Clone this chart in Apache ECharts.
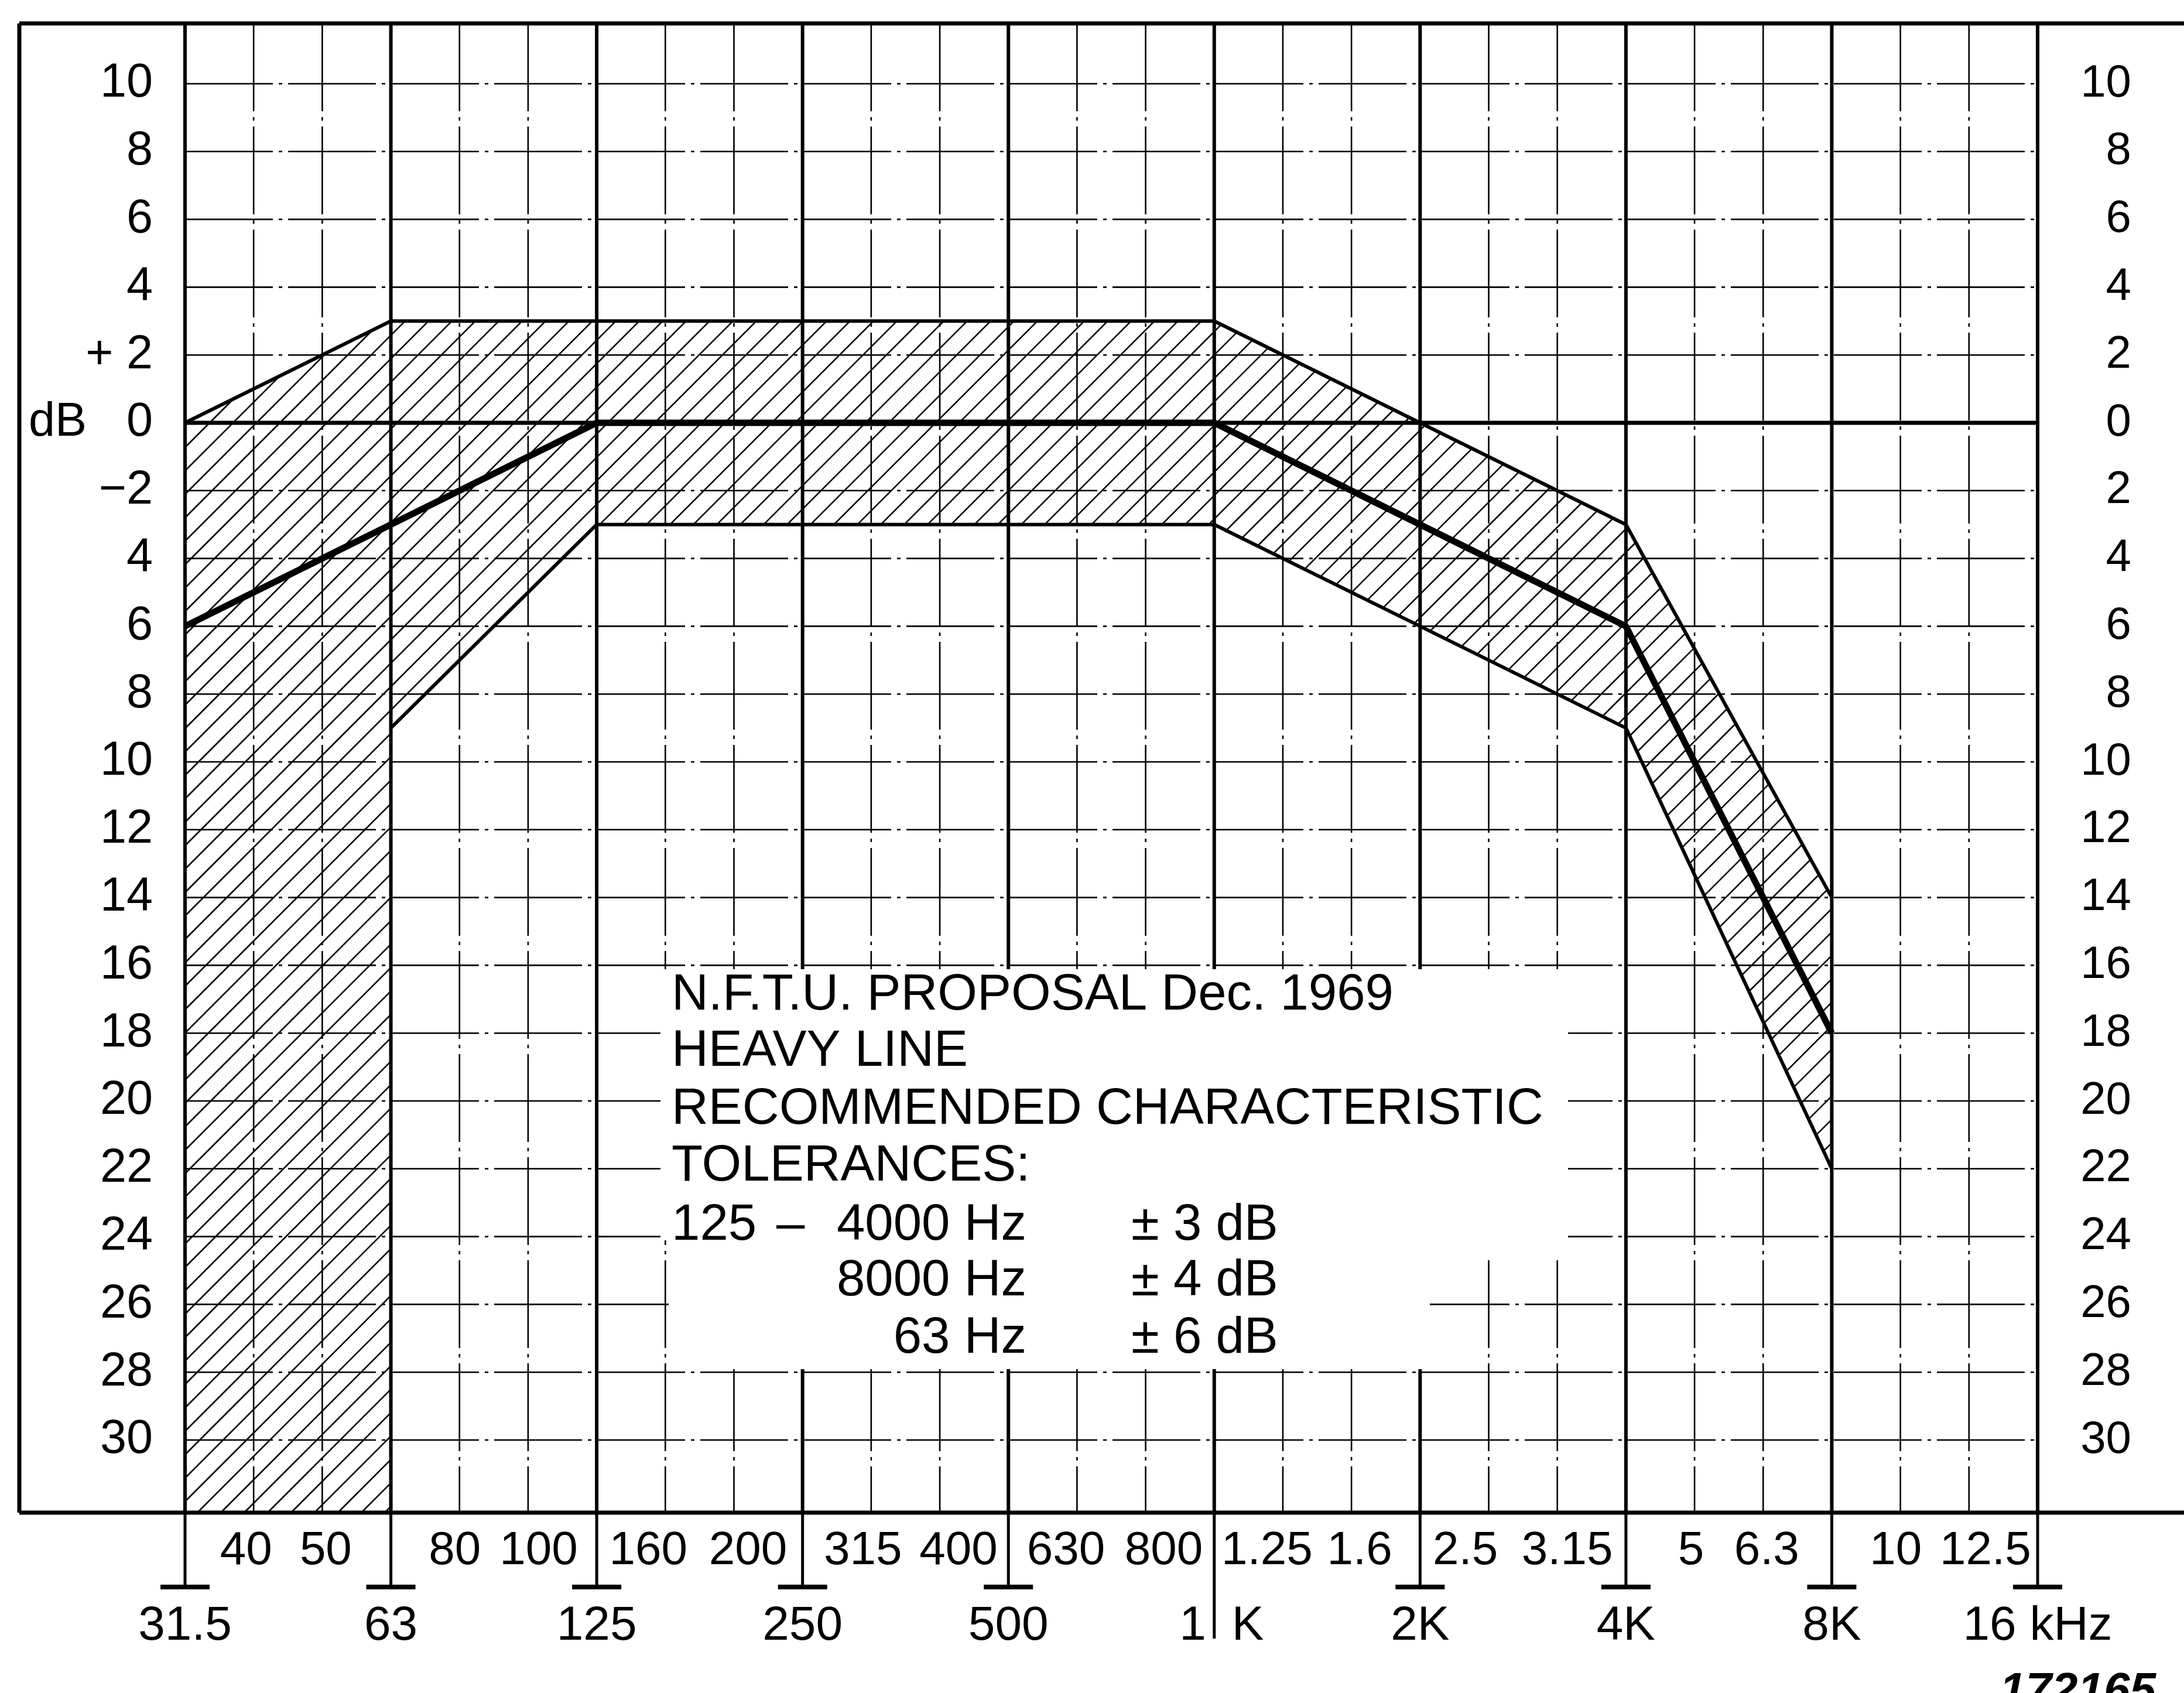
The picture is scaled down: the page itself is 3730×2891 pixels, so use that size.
<!DOCTYPE html>
<html>
<head>
<meta charset="utf-8">
<script src="https://cdn.jsdelivr.net/npm/echarts@6/dist/echarts.min.js"></script>
<style>
html,body{margin:0;padding:0;background:#fff;}
#chart{width:3730px;height:2891px;}
</style>
</head>
<body>
<div id="chart"></div>
<script>
// ---------------- DATA ----------------
// one-third-octave bands of the chart paper (equally spaced)
const bandFreqs = ['31.5','40','50','63','80','100','125','160','200','250','315','400','500','630','800','1K','1.25','1.6','2K','2.5','3.15','4K','5','6.3','8K','10','12.5','16K'];
const octaveBands = ['31.5','63','125','250','500','1K','2K','4K','8K','16K'];
const octaveTickLabels = ['31.5','63','125','250','500','1K','2K','4K','8K','16 kHz'];
const thirdBands = ['40','50','80','100','160','200','315','400','630','800','1.25','1.6','2.5','3.15','5','6.3','10','12.5'];
const thirdTickLabels = ['40','50','80','100','160','200','315','400','630','800','1.25','1.6','2.5','3.15','5','6.3','10','12.5'];
const dbTicks = [10,8,6,4,2,0,-2,-4,-6,-8,-10,-12,-14,-16,-18,-20,-22,-24,-26,-28,-30];
const leftTickLabels = ['10','8','6','4','+ 2','0','\u22122','4','6','8','10','12','14','16','18','20','22','24','26','28','30'];
const rightTickLabels = ['10','8','6','4','2','0','2','4','6','8','10','12','14','16','18','20','22','24','26','28','30'];

// heavy line: recommended characteristic (dB)
const charFreqs = ['31.5','63','125','1K','2K','4K','8K'];
const charDb    = [-6, -3, 0, 0, -3, -6, -18];
// upper tolerance limit
const upperFreqs = ['31.5','63','125','1K','2K','4K','8K'];
const upperDb    = [0, 3, 3, 3, 0, -3, -14];
// lower tolerance limit (below 63 Hz the band is open down to the chart floor)
const lowerFreqs = ['63','125','1K','2K','4K','8K'];
const lowerDb    = [-9, -3, -3, -6, -9, -22];
const openBelowFreqs = ['31.5','63'];

const noteLines = ['N.F.T.U. PROPOSAL Dec. 1969','HEAVY LINE','RECOMMENDED CHARACTERISTIC','TOLERANCES:'];
const tolRanges = ['4000 Hz','8000 Hz','63 Hz'];
const tolValues = ['\u00b1 3 dB','\u00b1 4 dB','\u00b1 6 dB'];

// ---------------- LAYOUT ----------------
const W = 3730, H = 2891;
const X_FIRST = 316, X_LAST = 3480;          // pixel x of 31.5 Hz and 16 kHz lines
const Y_ZERO = 722, PX_PER_DB = 57.9;        // pixel y of 0 dB and scale
const FRAME_LEFT = 33, FRAME_TOP = 40, FRAME_BOTTOM = 2583;
const BAR_Y = 2710, ONEK_EXT = 2798;
const ROW_THIRD_Y = 2649, ROW_OCT_Y = 2777;
const LEFT_LAB_X = 261, RIGHT_LAB_X = 3640;
const FONT = '"Liberation Sans", Arial, Helvetica, sans-serif';
// small typographic offsets of the paired 1/3-octave labels (first of a pair sits left, second right)
const THIRD_SHIFT = [-13, 6, -8, 18, -29, 24, -14, 32, -19, 31, -27, 14, -40, 17, -6, 6, -8, 28];
const step = (X_LAST - X_FIRST) / (bandFreqs.length - 1);
const xMin = -X_FIRST / step, xMax = (bandFreqs.length - 1) + (W - X_LAST) / step;
const yMax = Y_ZERO / PX_PER_DB, yMin = -(H - Y_ZERO) / PX_PER_DB;
const idx = f => bandFreqs.indexOf(f);
const THIN_DASH = [150, 10, 6, 10];
const HATCH_GAP = 40;

function txt(text, x, y, size, align, extra) {
  return Object.assign({
    text: text, x: x, y: y, fill: '#000',
    fontSize: size, fontFamily: FONT,
    align: align, textAlign: align,
    verticalAlign: 'middle', textVerticalAlign: 'middle'
  }, extra || {});
}

// 45-degree hatch lines clipped to a polygon (pixel space)
function hatchLines(pts, gap) {
  let lo = Infinity, hi = -Infinity;
  pts.forEach(p => { const s = p[0] + p[1]; lo = Math.min(lo, s); hi = Math.max(hi, s); });
  const out = [];
  for (let c = Math.ceil(lo / gap) * gap; c <= hi; c += gap) {
    const xs = [];
    for (let i = 0; i < pts.length; i++) {
      const a = pts[i], b = pts[(i + 1) % pts.length];
      const s1 = a[0] + a[1] - c, s2 = b[0] + b[1] - c;
      if ((s1 > 0) !== (s2 > 0)) {
        const t = s1 / (s1 - s2);
        xs.push(a[0] + t * (b[0] - a[0]));
      }
    }
    xs.sort((m, n) => m - n);
    for (let k = 0; k + 1 < xs.length; k += 2) {
      out.push({type: 'line', shape: {x1: xs[k], y1: c - xs[k], x2: xs[k + 1], y2: c - xs[k + 1]},
                style: {stroke: '#000', lineWidth: 2.6}});
    }
  }
  return out;
}

const chart = echarts.init(document.getElementById('chart'), null, {width: W, height: H, renderer: 'canvas'});

const option = {
  backgroundColor: '#fff',
  animation: false,
  grid: {left: 0, right: 0, top: 0, bottom: 0, containLabel: false},
  xAxis: {type: 'value', min: xMin, max: xMax, show: false},
  yAxis: {type: 'value', min: yMin, max: yMax, show: false},
  series: [
    // vertical chart-paper lines
    {
      type: 'custom', z: 1, silent: true,
      data: bandFreqs.map((f, i) => [i]),
      renderItem: function (p, api) {
        const i = api.value(0);
        const f = bandFreqs[i];
        const x = api.coord([i, 0])[0];
        const oct = octaveBands.indexOf(f) >= 0;
        const st = oct ? {stroke: '#000', lineWidth: 6} : {stroke: '#000', lineWidth: 2.6, lineDash: THIN_DASH};
        const ch = [{type: 'line', shape: {x1: x, y1: FRAME_TOP, x2: x, y2: FRAME_BOTTOM}, style: st}];
        if (oct) {
          const ext = f === '1K' ? ONEK_EXT : BAR_Y;
          ch.push({type: 'line', shape: {x1: x, y1: FRAME_BOTTOM, x2: x, y2: ext}, style: {stroke: '#000', lineWidth: 5}});
          if (f !== '1K') {
            ch.push({type: 'line', shape: {x1: x - 42, y1: BAR_Y, x2: x + 42, y2: BAR_Y}, style: {stroke: '#000', lineWidth: 8}});
          }
        }
        return {type: 'group', children: ch};
      }
    },
    // horizontal chart-paper lines
    {
      type: 'custom', z: 1, silent: true,
      data: dbTicks.map(v => [v]),
      renderItem: function (p, api) {
        const v = api.value(0);
        const a = api.coord([0, v]);
        const b = api.coord([bandFreqs.length - 1, v]);
        const st = v === 0 ? {stroke: '#000', lineWidth: 7} : {stroke: '#000', lineWidth: 2.6, lineDash: THIN_DASH};
        return {type: 'line', shape: {x1: a[0], y1: a[1], x2: b[0], y2: b[1]}, style: st};
      }
    },
    // hatched tolerance band
    {
      type: 'custom', z: 2, silent: true,
      data: [[0]],
      renderItem: function (p, api) {
        const pts = [];
        upperFreqs.forEach((f, k) => pts.push(api.coord([idx(f), upperDb[k]])));
        for (let k = lowerFreqs.length - 1; k >= 0; k--) pts.push(api.coord([idx(lowerFreqs[k]), lowerDb[k]]));
        for (let k = openBelowFreqs.length - 1; k >= 0; k--) {
          pts.push([api.coord([idx(openBelowFreqs[k]), 0])[0], FRAME_BOTTOM]);
        }
        return {type: 'group', children: hatchLines(pts, HATCH_GAP)};
      }
    },
    // tolerance limits
    {
      type: 'line', z: 5, silent: true, symbol: 'none',
      data: upperFreqs.map((f, k) => [idx(f), upperDb[k]]),
      lineStyle: {color: '#000', width: 6}
    },
    {
      type: 'line', z: 5, silent: true, symbol: 'none',
      data: lowerFreqs.map((f, k) => [idx(f), lowerDb[k]]),
      lineStyle: {color: '#000', width: 6}
    },
    // heavy line: recommended characteristic
    {
      type: 'line', z: 6, silent: true, symbol: 'none',
      data: charFreqs.map((f, k) => [idx(f), charDb[k]]),
      lineStyle: {color: '#000', width: 11}
    },
    // dB tick labels (left & right)
    {
      type: 'custom', z: 7, silent: true,
      data: dbTicks.map((v, k) => [v, k]),
      renderItem: function (p, api) {
        const v = api.value(0), k = api.value(1);
        const y = api.coord([0, v])[1];
        const ch = [
          {type: 'text', style: txt(leftTickLabels[k], LEFT_LAB_X, y, 81, 'right')},
          {type: 'text', style: txt(rightTickLabels[k], RIGHT_LAB_X, y, 78, 'right')}
        ];
        if (v === 0) ch.push({type: 'text', style: txt('dB', 49, y, 81, 'left')});
        return {type: 'group', children: ch};
      }
    },
    // frequency labels: one-third-octave row
    {
      type: 'custom', z: 7, silent: true,
      data: thirdBands.map((f, k) => [idx(f), k]),
      renderItem: function (p, api) {
        const k = api.value(1);
        const x = api.coord([api.value(0), 0])[0] + THIRD_SHIFT[k];
        return {type: 'text', style: txt(thirdTickLabels[k], x, ROW_THIRD_Y, 80, 'center')};
      }
    },
    // frequency labels: octave row
    {
      type: 'custom', z: 7, silent: true,
      data: octaveBands.map((f, k) => [idx(f), k]),
      renderItem: function (p, api) {
        const x = api.coord([api.value(0), 0])[0];
        const lab = octaveTickLabels[api.value(1)];
        if (lab === '1K') {
          return {type: 'group', children: [
            {type: 'text', style: txt('1', x - 14, ROW_OCT_Y, 82, 'right')},
            {type: 'text', style: txt('K', x + 30, ROW_OCT_Y, 82, 'left')}
          ]};
        }
        return {type: 'text', style: txt(lab, x, ROW_OCT_Y, 82, 'center')};
      }
    }
  ],
  graphic: [
    // frame
    {type: 'line', z: 20, shape: {x1: FRAME_LEFT, y1: FRAME_TOP, x2: W, y2: FRAME_TOP}, style: {stroke: '#000', lineWidth: 7}},
    {type: 'line', z: 20, shape: {x1: FRAME_LEFT, y1: FRAME_TOP, x2: FRAME_LEFT, y2: FRAME_BOTTOM}, style: {stroke: '#000', lineWidth: 7}},
    {type: 'line', z: 20, shape: {x1: FRAME_LEFT, y1: FRAME_BOTTOM, x2: W, y2: FRAME_BOTTOM}, style: {stroke: '#000', lineWidth: 7}},
    // white label area
    {type: 'polygon', z: 50, shape: {points: [[1128,1655],[2678,1655],[2678,2150],[2442,2150],[2442,2338],[1142,2338],[1142,2118],[1128,2118]]}, style: {fill: '#fff'}},
    {type: 'text', z: 51, style: txt(noteLines[0], 1147, 1700, 87, 'left')},
    {type: 'text', z: 51, style: txt(noteLines[1], 1147, 1796, 87, 'left')},
    {type: 'text', z: 51, style: txt(noteLines[2], 1147, 1895, 87, 'left')},
    {type: 'text', z: 51, style: txt(noteLines[3], 1147, 1992, 87, 'left')},
    {type: 'text', z: 51, style: txt('125', 1147, 2093, 87, 'left')},
    {type: 'text', z: 51, style: txt('\u2013', 1326, 2093, 87, 'left')},
    {type: 'text', z: 51, style: txt(tolRanges[0], 1753, 2093, 87, 'right')},
    {type: 'text', z: 51, style: txt(tolRanges[1], 1753, 2188, 87, 'right')},
    {type: 'text', z: 51, style: txt(tolRanges[2], 1753, 2286, 87, 'right')},
    {type: 'text', z: 51, style: txt(tolValues[0], 1932, 2093, 87, 'left')},
    {type: 'text', z: 51, style: txt(tolValues[1], 1932, 2188, 87, 'left')},
    {type: 'text', z: 51, style: txt(tolValues[2], 1932, 2286, 87, 'left')},
    // archive number
    {type: 'text', z: 51, style: txt('172165', 3415, 2850, 80, 'left', {verticalAlign: 'top', textVerticalAlign: 'top', fontStyle: 'italic', fontWeight: 'bold'})}
  ]
};
chart.setOption(option);
</script>
</body>
</html>
